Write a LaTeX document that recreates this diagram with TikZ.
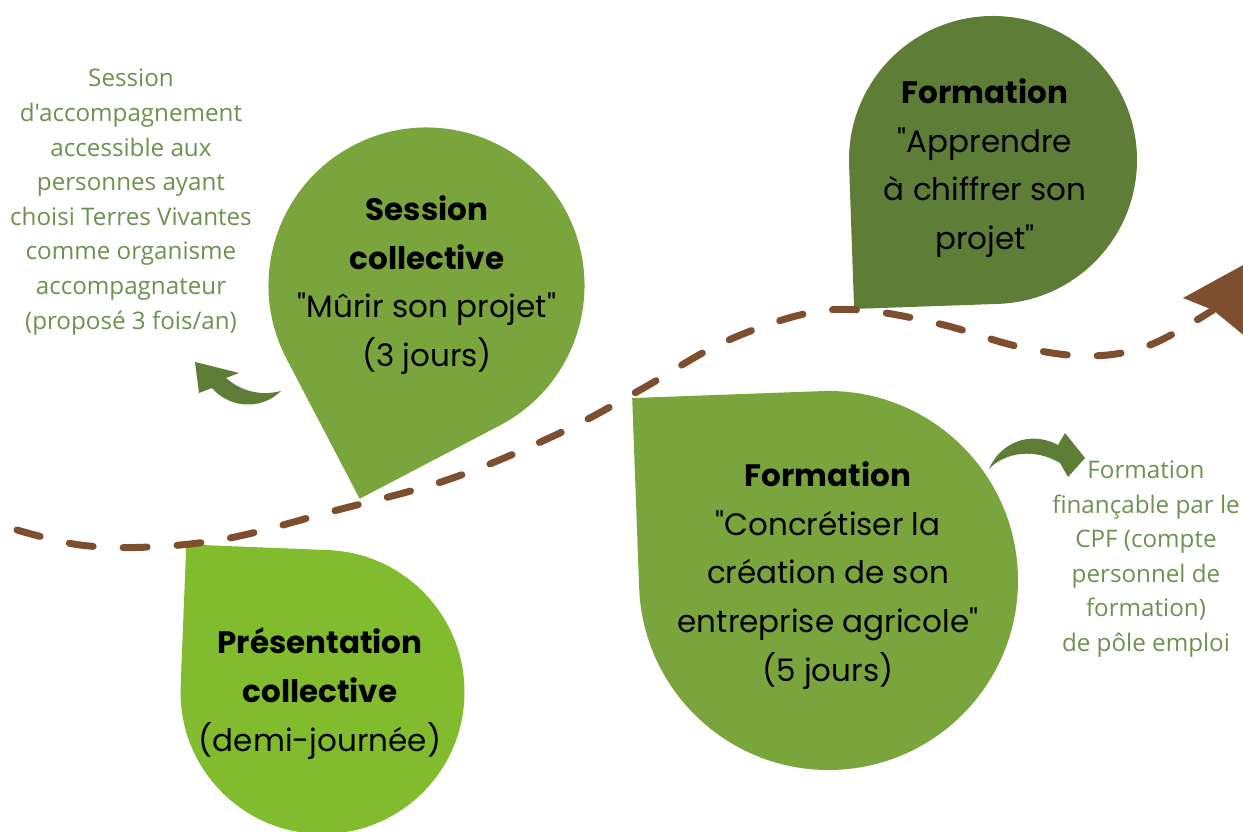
\documentclass[tikz,border=0pt]{standalone}
\usepackage{fontspec}
\setmainfont{Poppins}[Ligatures=TeXOff]
\newfontfamily\notefont{Open Sans}[Ligatures=TeXOff]
\usetikzlibrary{calc}
\definecolor{dkgreen}{HTML}{5E7E37}
\definecolor{mdgreen}{HTML}{7AA53C}
\definecolor{ltgreen}{HTML}{80BC2E}
\definecolor{brownc}{HTML}{7E4F2F}
\definecolor{notec}{HTML}{6E9150}
\newcommand\tdrop[5]{%
  \fill[#5] ($(#1,#2)+(#4:{#3*1.41421})$) -- ($(#1,#2)+(#4+45:#3)$)
    arc[start angle=#4+45, delta angle=270, radius=#3pt] -- cycle;}
\tikzset{
  droptext/.style={align=center, text=black, font={\fontsize{31}{48.7}\selectfont}},
  notetext/.style={align=center, text=notec, font={\notefont\fontsize{24.2}{34.6}\selectfont}},
  dashline/.style={draw=brownc, line width=7pt, line cap=round, dash pattern=on 24pt off 30pt},
}
\begin{document}
\begin{tikzpicture}[x=1pt,y=1pt]
\useasboundingbox (0,0) rectangle (1243,832);
\clip (0,0) rectangle (1243,832);
% teardrops
\tdrop{993}{672}{144}{227}{dkgreen}
\tdrop{426.5}{546.5}{158}{252.6}{mdgreen}
\tdrop{828.5}{251.5}{189.5}{137.1}{mdgreen}
\tdrop{322.5}{140}{142}{132.7}{ltgreen}
% dashed path
\coordinate (pstart) at (17,302);
\coordinate (pend) at (1213,522);
\draw[dashline] plot[smooth, tension=0.6] coordinates {(pstart) (80,287) (150,285) (230,294) (330,320) (450,353) (560,399) (640,442) (720,488) (800,517) (860,522) (940,508) (1020,485) (1090,476) (1150,487) (pend)};
\fill[brownc] (pend) -- (1183,534) -- (1245,568) -- (1247,494) -- cycle;
% green swooshes
\fill[dkgreen] (281,441) .. controls (262,422) and (230,423) .. (212,444) -- (199,439) -- (195,470) -- (239,459) -- (226,454) .. controls (242,440) and (262,436) .. (281,441) -- cycle;
\fill[dkgreen] (989,363) .. controls (1000,389) and (1030,402) .. (1058,387) -- (1065,399) -- (1085,374) -- (1068,355) -- (1060,369) .. controls (1035,384) and (1005,380) .. (989,363) -- cycle;
% texts
\node[droptext] (apprendre) at (985,664) {\textbf{Formation}\\"Apprendre\\à chiffrer son\\projet"};
\node[droptext] (murir) at (427,547) {\textbf{Session}\\\textbf{collective}\\"Mûrir son projet"\\(3 jours)};
\node[droptext] (concretiser) at (828,256.5) {\textbf{Formation}\\"Concrétiser la\\création de son\\entreprise agricole"\\(5 jours)};
\node[droptext] (presentation) at (320,138.5) {\textbf{Présentation}\\\textbf{collective}\\(demi-journée)};
\node[notetext] (noteleft) at (131,630) {Session\\d'accompagnement\\accessible aux\\personnes ayant\\choisi Terres Vivantes\\comme organisme\\accompagnateur\\(proposé 3 fois/an)};
\node[notetext] (noteright) at (1146,273) {Formation\\finançable par le\\CPF (compte\\personnel de\\formation)\\de pôle emploi};
\end{tikzpicture}
\end{document}
